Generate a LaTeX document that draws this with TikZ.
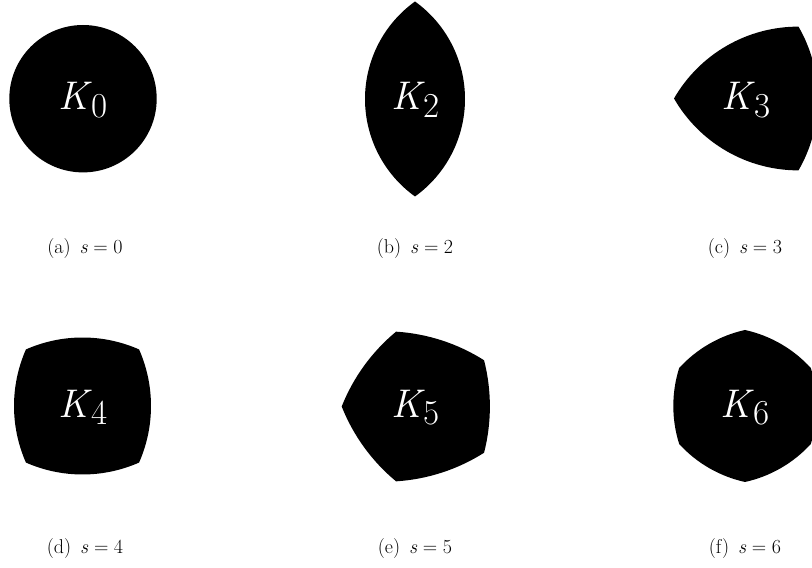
\documentclass[tikz,border=0pt]{standalone}
\usepackage{fontspec}
\usetikzlibrary{calc}
\tikzset{
  body/.style={fill=black, draw=none},
  bodylabel/.style={text=white, anchor=base, inner sep=0pt},
  caption/.style={text=black, anchor=base, inner sep=0pt, font=\fontsize{20}{20}\selectfont}
}
% #1 name, #2 cx, #3 cy, #4 s, #5 R (vertex radius), #6 h (arc mid radius), #7 first vertex angle
\newcommand\curvedpoly[7]{%
  \pgfmathsetmacro\myc{#5*sin(180/#4)}%
  \pgfmathsetmacro\myd{#5*cos(180/#4)}%
  \pgfmathsetmacro\myt{#6-\myd}%
  \pgfmathsetmacro\myrho{(\myc*\myc+\myt*\myt)/(2*\myt)}%
  \pgfmathsetmacro\myal{asin(\myc/\myrho)}%
  \coordinate (#1) at (#2,#3);
  \fill[body] ($(#1)+(#7:#5)$)
    \foreach \k [evaluate=\k as \st using {#7+(\k-0.5)*360/#4-\myal}] in {1,...,#4}{
      arc[start angle=\st, delta angle={2*\myal}, radius=\myrho]
    } -- cycle;
}
\newcommand\klabel[1]{{\fontsize{40}{40}\selectfont\textit{K}\kern-1.5pt\raisebox{-7.5pt}{\fontsize{35}{35}\selectfont #1}}}
\newcommand\capt[2]{(#1)\hspace{0.45em}\textit{s}\hspace{0.28em}=\hspace{0.28em}#2}
\begin{document}
\begin{tikzpicture}[x=1pt,y=1pt]
\clip (0,0) rectangle (812,568);
% row 1
\fill[body] (83,469.3) circle[radius=73.7];
\coordinate (c0) at (83,469.3);
\curvedpoly{c2}{415}{469}{2}{97.5}{50}{90}
\curvedpoly{c3}{757}{469.5}{3}{83}{60.8}{180}
% row 2
\curvedpoly{c4}{82.5}{162}{4}{80}{68.5}{45}
\curvedpoly{c5}{420.4}{161.5}{5}{78.7}{69.5}{180}
\curvedpoly{c6}{745}{162}{6}{76}{71.7}{90}
% labels
\node[bodylabel] (l0) at (83,458) {\klabel{0}};
\node[bodylabel] (l2) at (415.5,458) {\klabel{2}};
\node[bodylabel] (l3) at (746,458) {\klabel{3}};
\node[bodylabel] (l4) at (83,150.5) {\klabel{4}};
\node[bodylabel] (l5) at (415.5,150.5) {\klabel{5}};
\node[bodylabel] (l6) at (745,150.5) {\klabel{6}};
% captions
\node[caption] (a) at (85,314) {\capt{a}{0}};
\node[caption] (b) at (415,314) {\capt{b}{2}};
\node[caption] (c) at (745,314) {\capt{c}{3}};
\node[caption] (d) at (85,14) {\capt{d}{4}};
\node[caption] (e) at (415,14) {\capt{e}{5}};
\node[caption] (f) at (745,14) {\capt{f}{6}};
\end{tikzpicture}
\end{document}
